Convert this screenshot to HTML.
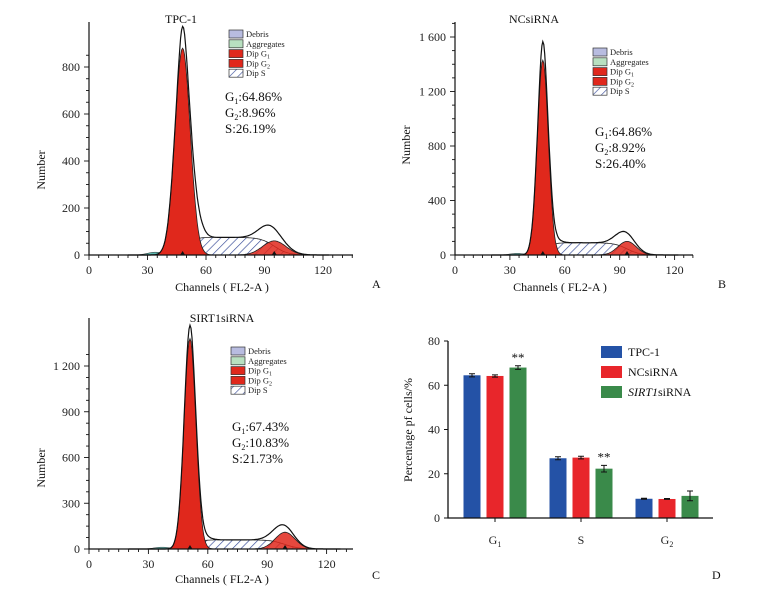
<!DOCTYPE html>
<html><head><meta charset="utf-8"><style>
html,body{margin:0;padding:0;background:#fff;}
svg{display:block;font-family:"Liberation Serif",serif;}
</style></head><body>
<svg id="fig" width="757" height="591" viewBox="0 0 757 591">
<defs>
<pattern id="hatch" patternUnits="userSpaceOnUse" width="6" height="6" patternTransform="rotate(45)">
<rect width="6" height="6" fill="#fff"/><line x1="0" y1="0" x2="0" y2="6" stroke="#3b4f9a" stroke-width="1.3"/>
</pattern>
</defs>
</svg>
<script>
// ---- Histogram data (FL2-A channels) ----
const histNames = ["TPC-1", "NCsiRNA", "SIRT1siRNA"];
const g1Means = [48, 48, 51];
const g1Heights = [880, 1430, 1380];
const g1Sds = [3.9, 3.0, 3.0];
const g2Means = [95, 94, 99];
const g2Heights = [60, 100, 110];
const g2Sds = [6, 5, 5];
const sHeights = [75, 90, 60];
const extraBumps = [22, 25, 20];
const peakExtra = [70, 110, 70];
const statsG1 = ["64.86%", "64.86%", "67.43%"];
const statsG2 = ["8.96%", "8.92%", "10.83%"];
const statsS = ["26.19%", "26.40%", "21.73%"];
const yTickSets = [[0,200,400,600,800],[0,400,800,1200,1600],[0,300,600,900,1200]];
const yTickText = [["0","200","400","600","800"],["0","400","800","1 200","1 600"],["0","300","600","900","1 200"]];
const xTicks = [0,30,60,90,120];
const legendLabels = ["Debris","Aggregates","Dip G","Dip G","Dip S"];

// ---- Bar chart data ----
const phases = ["G1","S","G2"];
const groups = ["TPC-1","NCsiRNA","SIRT1siRNA"];
const tpcValues = [64.5, 27.0, 8.7];
const ncValues = [64.2, 27.3, 8.6];
const sirtValues = [68.0, 22.3, 10.0];
const tpcErr = [0.7, 0.7, 0.2];
const ncErr = [0.5, 0.6, 0.2];
const sirtErr = [0.8, 1.5, 2.2];
const barYTicks = [0,20,40,60,80];

const NS="http://www.w3.org/2000/svg";
const svg=document.getElementById('fig');
function el(tag,attrs,parent,text){const e=document.createElementNS(NS,tag);for(const k in attrs)e.setAttribute(k,attrs[k]);if(text!==undefined)e.textContent=text;(parent||svg).appendChild(e);return e;}

const layouts=[
 {x0:89,pxc:1.95,y0:255,ymax:800,ypx:188,xend:353,ytop:22,minorY:50,title:[181,19],legend:[229,34],stats:[225,97],ytitle:[45,170],xtitle:[222,291],letter:[372,288,"A"],chmax:135},
 {x0:455,pxc:1.83,y0:255,ymax:1600,ypx:218,xend:693,ytop:22,minorY:100,title:[534,19],legend:[593,52],stats:[595,132],ytitle:[410,145],xtitle:[560,291],letter:[718,288,"B"],chmax:130},
 {x0:89,pxc:1.98,y0:549,ymax:1200,ypx:183,xend:353,ytop:318,minorY:75,title:[222,318],legend:[231,351],stats:[232,427],ytitle:[45,468],xtitle:[222,583],letter:[372,579,"C"],chmax:132}
];
function sig(z){return 1/(1+Math.exp(-z));}
function gauss(x,m,h,s){return h*Math.exp(-0.5*((x-m)/s)**2);}

for(let i=0;i<3;i++){
 const L=layouts[i];
 const g=el('g',{});
 
 
 const X=c=>L.x0+c*L.pxc, Y=v=>L.y0-v*L.ypx/L.ymax;
 const m1=g1Means[i],m2=g2Means[i];
 const sF=x=>sHeights[i]*sig((x-m1-2)/2.2)*sig((m2-x)/3.5);
 const g1F=x=>gauss(x,m1,g1Heights[i],g1Sds[i]);
 const g2F=x=>gauss(x,m2,g2Heights[i],g2Sds[i]);
 const totF=x=>g1F(x)+sF(x)+g2F(x)+gauss(x,m1,peakExtra[i],1.5)+gauss(x,m2-4,extraBumps[i],5)+gauss(x,m1+8,40,3)*(i===0?1:0.4);
 function area(f,a,b,attrs,name){let d='M'+X(a)+','+Y(0);for(let c=a;c<=b;c+=0.5)d+=' L'+X(c).toFixed(1)+','+Y(f(c)).toFixed(1);d+=' L'+X(b)+','+Y(0)+'Z';const p=el('path',Object.assign({d},attrs),g);return p;}
 area(x=>gauss(x,m1-14,12,4),20,m1-4,{fill:'#5fb8b0',stroke:'#222','stroke-width':0.5},'debris-area');
 area(sF,m1-12,m2+14,{fill:'url(#hatch)',stroke:'#222','stroke-width':0.8},'dip-s-area');
 area(g2F,m2-20,m2+20,{fill:'#e0281c','fill-opacity':0.85,stroke:'#222','stroke-width':0.8},'dip-g2-area');
 area(g1F,m1-15,m1+15,{fill:'#e0281c',stroke:'#222','stroke-width':0.8},'dip-g1-area');
 let d='';for(let c=20;c<=m2+28;c+=0.5){d+=(d?' L':'M')+X(c).toFixed(1)+','+Y(totF(c)).toFixed(1);}
 const t=el('path',{d,fill:'none',stroke:'#111','stroke-width':1.2},g);
 
 const ax=el('path',{d:`M${L.x0},${L.ytop} V${L.y0} H${L.xend}`,fill:'none',stroke:'#111','stroke-width':1.2},g);
 
 for(let c=0;c<=L.chmax;c+=5){el('line',{x1:X(c),x2:X(c),y1:L.y0,y2:L.y0+(c%30===0?5:3),stroke:'#111','stroke-width':0.9},g);}
 for(let v=0;v<=L.ymax*1.1;v+=L.minorY){if(Y(v)<L.ytop)break;el('line',{x1:L.x0,x2:L.x0-(v%(yTickSets[i][1])===0?5:3),y1:Y(v),y2:Y(v),stroke:'#111','stroke-width':0.9},g);}
 xTicks.forEach(c=>{const tx=el('text',{x:X(c),y:L.y0+19,'font-size':12,'text-anchor':'middle',fill:'#222'},g,String(c));});
 yTickSets[i].forEach((v,k)=>{const tx=el('text',{x:L.x0-9,y:Y(v)+4,'font-size':12,'text-anchor':'end',fill:'#222'},g,yTickText[i][k]);});
 el('path',{d:`M${X(m1)-2.5},${L.y0} l2.5,-4 l2.5,4z M${X(m2)-2.5},${L.y0} l2.5,-4 l2.5,4z`,fill:'#111'},g);
 const tt=el('text',{x:L.title[0],y:L.title[1]+4,'font-size':12,'text-anchor':'middle',fill:'#111'},g,histNames[i]);
 
 const yt=el('text',{x:L.ytitle[0],y:L.ytitle[1],'font-size':12,'text-anchor':'middle',transform:`rotate(-90 ${L.ytitle[0]} ${L.ytitle[1]})`,fill:'#111'},g,'Number');
 
 const xt=el('text',{x:L.xtitle[0],y:L.xtitle[1],'font-size':12,'text-anchor':'middle',fill:'#111'},g,'Channels ( FL2-A )');
 
 const lt=el('text',{x:L.letter[0],y:L.letter[1],'font-size':12,fill:'#111'},g,L.letter[2]);
 
 const fills=['#b8bce0','#b8e0c0','#e0281c','#e0281c','url(#hatch)'];
 legendLabels.forEach((lab,k)=>{const yy=L.legend[1]+k*9.8;
  const r=el('rect',{x:L.legend[0],y:yy-4,width:14,height:8,fill:fills[k],stroke:'#333','stroke-width':0.7},g);
  
  const tx=el('text',{x:L.legend[0]+17,y:yy+3,'font-size':8.5,fill:'#222'},g,lab);
  
  if(k===2||k===3){el('tspan',{'font-size':6,dy:2},tx,k===2?'1':'2');}
 });
 const st=[["G","1",":"+statsG1[i]],["G","2",":"+statsG2[i]],["S","",":"+statsS[i]]];
 st.forEach((s,k)=>{const tx=el('text',{x:L.stats[0],y:L.stats[1]+k*16+4,'font-size':13,fill:'#111'},g,s[0]);
  
  if(s[1])el('tspan',{'font-size':8,dy:3},tx,s[1]);
  el('tspan',{dy:s[1]?-3:0},tx,s[2]);});
}

(function(){
 const g=el('g',{});
 
 
 const x0=448,xEnd=713,y0=518,yTop=341;
 const Y=v=>y0-v*(y0-yTop)/80;
 const centers=[495,581,667];
 const series=[tpcValues,ncValues,sirtValues],errs=[tpcErr,ncErr,sirtErr];
 const colors=['#2452a6','#e8262b','#3a8a4a'];
 const bw=17,step=23;
 series.forEach((vals,s)=>{vals.forEach((v,k)=>{
  const cx=centers[k]+(s-1)*step;
  const r=el('rect',{x:cx-bw/2,y:Y(v),width:bw,height:y0-Y(v),fill:colors[s]},g);
  
  
  const e=errs[s][k];
  const eb=el('path',{d:`M${cx},${Y(v+e)} V${Y(v-e)} M${cx-3},${Y(v+e)} H${cx+3} M${cx-3},${Y(v-e)} H${cx+3}`,stroke:'#111','stroke-width':1,fill:'none'},g);
  
 });});
 [[0,68.8],[1,23.8]].forEach(([k,v])=>{const tx=el('text',{x:centers[k]+step,y:Y(v)-4,'font-size':13,'text-anchor':'middle',fill:'#111'},g,'**');});
 const ax=el('path',{d:`M${x0},${yTop} V${y0} H${xEnd}`,fill:'none',stroke:'#111','stroke-width':1.3},g);
 
 barYTicks.forEach(v=>{el('line',{x1:x0-4,x2:x0,y1:Y(v),y2:Y(v),stroke:'#111'},g);
  const tx=el('text',{x:x0-8,y:Y(v)+4,'font-size':12,'text-anchor':'end',fill:'#222'},g,String(v));});
 centers.forEach((c,k)=>{el('line',{x1:c,x2:c,y1:y0,y2:y0+4,stroke:'#111'},g);
  const tx=el('text',{x:c,y:y0+26,'font-size':12,'text-anchor':'middle',fill:'#222'},g,phases[k][0]);
  
  if(phases[k].length>1)el('tspan',{'font-size':8,dy:3},tx,phases[k][1]);});
 const yt=el('text',{x:412,y:430,'font-size':12,'text-anchor':'middle',transform:'rotate(-90 412 430)',fill:'#111'},g,'Percentage pf cells/%');
 
 groups.forEach((gname,s)=>{const yy=352+s*20;
  const r=el('rect',{x:601,y:yy-6,width:21,height:12,fill:colors[s]},g);
  
  const tx=el('text',{x:628,y:yy+4,'font-size':12,fill:'#111'},g);
  
  if(s===2){el('tspan',{'font-style':'italic'},tx,'SIRT1');el('tspan',{},tx,'siRNA');}else tx.textContent=gname;});
 const lt=el('text',{x:712,y:579,'font-size':12,fill:'#111'},g,'D');
 
})();
</script>
</body></html>
